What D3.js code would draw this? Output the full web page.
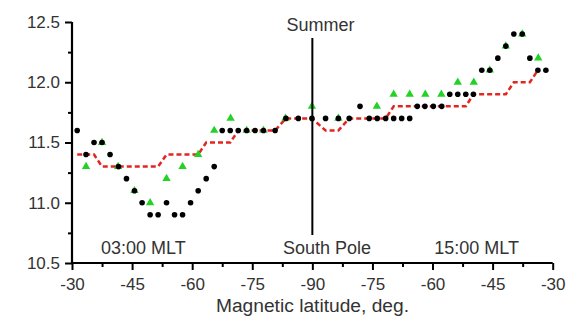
<!DOCTYPE html>
<html><head><meta charset="utf-8">
<script src="https://cdn.jsdelivr.net/npm/d3@7"></script>
<style>
html,body{margin:0;padding:0;background:#fff;}
svg{display:block;font-family:"Liberation Sans",Arial,sans-serif;}
</style></head>
<body><svg id="c" width="574" height="320"></svg>
<script>
// Path position in degrees: 0 = -30° (03:00 MLT) ... 60 = -90° (pole) ... 120 = -30° (15:00 MLT)
const xTickPos = [0,15,30,45,60,75,90,105,120];
const xTickLabels = ["-30","-45","-60","-75","-90","-75","-60","-45","-30"];
const yTicks = [10.5,11.0,11.5,12.0,12.5];

const blackPos = [1.3,3.5,5.5,7.5,9.5,11.6,13.6,15.6,17.5,19.5,21.5,23.6,25.6,27.6,29.6,31.5,33.5,35.5,37.5,39.5,41.5,43.6,45.7,47.8,50.7,53.4,56.5,59.9,63.3,66.5,69.2,71.9,74.2,76.2,78.3,80.3,82.3,84.3,86.2,88.1,90.2,92.3,94.3,96.3,98.3,100.2,102.3,104.3,106.3,108.3,110.3,112.4,114.3,116.3,118.3];
const blackVal = [11.6,11.4,11.5,11.5,11.4,11.3,11.2,11.1,11.0,10.9,10.9,11.0,10.9,10.9,11.0,11.1,11.2,11.3,11.6,11.6,11.6,11.6,11.6,11.6,11.6,11.7,11.7,11.7,11.7,11.7,11.7,11.8,11.7,11.7,11.7,11.7,11.7,11.7,11.8,11.8,11.8,11.8,11.9,11.9,11.9,11.9,12.1,12.1,12.2,12.3,12.4,12.4,12.2,12.1,12.1];

const greenPos = [3.5,7.5,11.5,15.6,19.5,23.6,27.6,31.5,35.5,39.6,43.6,47.8,53.3,59.9,66.5,76.1,80.3,84.3,88.2,92.2,96.3,100.3,104.3,108.3,112.4,116.4];
const greenVal = [11.3,11.5,11.3,11.1,11.0,11.2,11.3,11.4,11.6,11.7,11.6,11.6,11.7,11.8,11.7,11.8,11.9,11.9,11.9,11.9,12.0,12.0,12.1,12.3,12.4,12.2];

const redPos = [1.3,3.5,5.5,7.5,9.5,11.6,13.6,15.6,17.5,19.5,21.5,23.6,25.6,27.6,29.6,31.5,33.5,35.5,37.5,39.5,41.5,43.6,45.7,47.8,50.7,53.4,56.5,59.9,63.3,66.5,69.2,71.9,74.2,76.2,78.3,80.3,82.3,84.3,86.2,88.1,90.2,92.3,94.3,96.3,98.3,100.2,102.3,104.3,106.3,108.3,110.3,112.4,114.3,116.3];
const redVal = [11.4,11.4,11.4,11.3,11.3,11.3,11.3,11.3,11.3,11.3,11.3,11.4,11.4,11.4,11.4,11.4,11.5,11.5,11.5,11.5,11.6,11.6,11.6,11.6,11.6,11.7,11.7,11.7,11.6,11.6,11.7,11.7,11.7,11.7,11.7,11.8,11.8,11.8,11.8,11.8,11.8,11.8,11.8,11.8,11.8,11.9,11.9,11.9,11.9,11.9,12.0,12.0,12.0,12.1];

const svg = d3.select("#c");
const x = d3.scaleLinear().domain([0,120]).range([72,552.7]);
const y = d3.scaleLinear().domain([10.5,12.5]).range([263,22]);
const textCol = "#333";

// red dashed model line
svg.append("path")
  .datum(redPos.map((p,i)=>[p,redVal[i]]))
  .attr("fill","none").attr("stroke","#e2261f").attr("stroke-width",2.5)
  .attr("stroke-dasharray","5,3")
  .attr("d", d3.line().x(d=>x(d[0])).y(d=>y(d[1])));

// green triangles
svg.append("g").selectAll("path")
  .data(greenPos.map((p,i)=>[p,greenVal[i]]))
  .join("path")
  .attr("d", d3.symbol().type(d3.symbolTriangle).size(30))
  .attr("transform", d=>`translate(${x(d[0])},${y(d[1])})`)
  .attr("fill","#22d226");

// black dots
svg.append("g").selectAll("circle")
  .data(blackPos.map((p,i)=>[p,blackVal[i]]))
  .join("circle")
  .attr("cx", d=>x(d[0])).attr("cy", d=>y(d[1])).attr("r",2.8)
  .attr("fill","#000");

// vertical pole line
svg.append("line")
  .attr("x1",x(60)).attr("x2",x(60)).attr("y1",38).attr("y2",235)
  .attr("stroke","#000").attr("stroke-width",2);

// axes
const minorX = d3.range(7.5,120,15);
const minorY = [10.75,11.25,11.75,12.25];

const gx = svg.append("g").attr("transform","translate(0,263)");
gx.call(d3.axisBottom(x).tickValues(xTickPos).tickSize(7).tickPadding(8)
  .tickFormat((d,i)=>xTickLabels[i]));
const gxm = svg.append("g").attr("transform","translate(0,263)");
gxm.call(d3.axisBottom(x).tickValues(minorX).tickSize(4).tickFormat(""));
gxm.select(".domain").remove();

const gy = svg.append("g").attr("transform","translate(72,0)");
gy.call(d3.axisLeft(y).tickValues(yTicks).tickSize(7).tickPadding(5).tickFormat(d3.format(".1f")));
const gym = svg.append("g").attr("transform","translate(72,0)");
gym.call(d3.axisLeft(y).tickValues(minorY).tickSize(4).tickFormat(""));
gym.select(".domain").remove();

svg.selectAll(".domain").attr("stroke","#000").attr("stroke-width",2.2);
gx.select(".domain").attr("d", `M72,0H552.7`);
gy.select(".domain").attr("d", `M0,22V263`);
svg.selectAll(".tick line").attr("stroke","#000").attr("stroke-width",2);
svg.selectAll(".tick text").attr("fill",textCol).attr("font-size",17)
  .attr("font-family",'"Liberation Sans",Arial,sans-serif');

// annotations
const ann = [
  {t:"Summer", x:320.5, y:30.5},
  {t:"South Pole", x:327, y:254},
  {t:"03:00 MLT", x:143.3, y:253.5},
  {t:"15:00 MLT", x:476.7, y:254}
];
svg.append("g").selectAll("text").data(ann).join("text")
  .attr("x",d=>d.x).attr("y",d=>d.y).attr("text-anchor","middle")
  .attr("font-size",18).attr("fill",textCol).text(d=>d.t);

svg.append("text").attr("x",312.5).attr("y",312).attr("text-anchor","middle")
  .attr("font-size",19.2).attr("fill",textCol).text("Magnetic latitude, deg.");
</script></body></html>
